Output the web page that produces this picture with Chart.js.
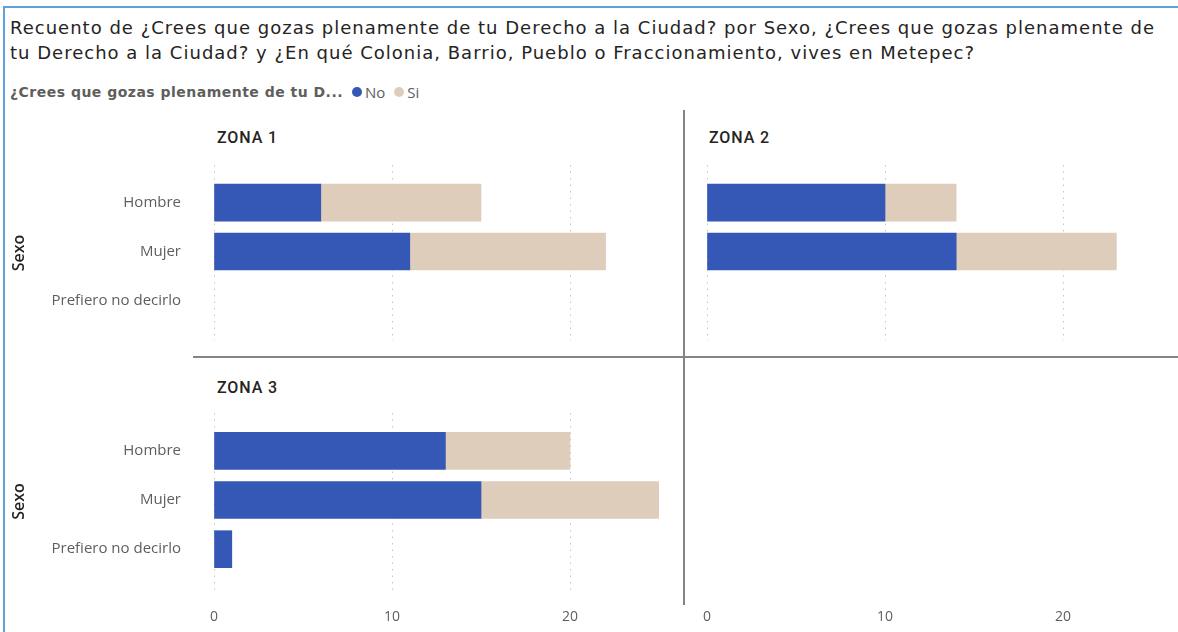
<!DOCTYPE html>
<html lang="es">
<head>
<meta charset="UTF-8">
<title>Recuento por Sexo y Zona</title>
<script src="https://cdn.jsdelivr.net/npm/chart.js"></script>
<style>
  body { margin: 0; width: 1178px; height: 632px; background: #fff; position: relative; overflow: hidden; font-family: Roboto, sans-serif; }
  .marco { position: absolute; left: 3px; top: 6px; width: 1200px; height: 700px; border-left: 2px solid #62a0dc; border-top: 2px solid #62a0dc; }
  #titulo { position: absolute; left: 10px; top: 15px; font-family: "DejaVu Sans", sans-serif; font-size: 18px; line-height: 25px; color: #252423; white-space: nowrap; }
  #leyenda { position: absolute; left: 10px; top: 82px; height: 20px; display: flex; align-items: center; font-family: "Open Sans", sans-serif; font-size: 14px; color: #605e5c; white-space: nowrap; }
  #leyenda .nombre { font-family: "DejaVu Sans", sans-serif; font-size: 14px; font-weight: bold; margin-right: 9px; }
  #leyenda .punto { width: 10px; height: 10px; border-radius: 50%; display: inline-block; margin-right: 3px; }
  #leyenda .item { display: flex; align-items: center; margin-right: 9px; font-size: 15px; }
  .zona { position: absolute; font-size: 16px; font-weight: 500; color: #252423; }
  .linea { position: absolute; background: #858585; }
  canvas { position: absolute; }
</style>
</head>
<body>
<div class="marco"></div>
<div id="titulo"><span id="l1">Recuento de ¿Crees que gozas plenamente de tu Derecho a la Ciudad? por Sexo, ¿Crees que gozas plenamente de</span><br><span id="l2">tu Derecho a la Ciudad? y ¿En qué Colonia, Barrio, Pueblo o Fraccionamiento, vives en Metepec?</span></div>
<div id="leyenda"><span class="nombre" id="nombreLeyenda">¿Crees que gozas plenamente de tu D...</span></div>

<div class="linea" style="left:683px; top:110px; width:2px; height:495px;"></div>
<div class="linea" style="left:193px; top:356px; width:985px; height:2px;"></div>

<div class="zona" id="t1" style="left:217px; top:128px;"></div>
<div class="zona" id="t2" style="left:709px; top:128px;"></div>
<div class="zona" id="t3" style="left:217px; top:378px;"></div>

<canvas id="zona1" width="680" height="186" style="left:0px; top:160px;"></canvas>
<canvas id="zona2" width="488" height="186" style="left:690px; top:160px;"></canvas>
<canvas id="zona3" width="680" height="224" style="left:0px; top:408px;"></canvas>
<canvas id="zona4" width="488" height="224" style="left:690px; top:408px;"></canvas>

<script>
// datos
const sexos = ['Hombre', 'Mujer', 'Prefiero no decirlo'];
const zonas = ['ZONA 1', 'ZONA 2', 'ZONA 3'];
const respuestas = ['No', 'Si'];
const colores = ['#3557b6', '#dfcdbc'];

const zona1No = [6, 11, null];
const zona1Si = [9, 11, null];
const zona2No = [10, 14, null];
const zona2Si = [4, 9, null];
const zona3No = [13, 15, 1];
const zona3Si = [7, 10, null];

const ticksX = [0, 10, 20];

// leyenda
const leyenda = document.getElementById('leyenda');
respuestas.forEach((r, i) => {
    const item = document.createElement('span');
    item.className = 'item';
    item.innerHTML = `<span class="punto" style="background:${colores[i]}"></span>${r}`;
    leyenda.appendChild(item);
});
['t1', 't2', 't3'].forEach((id, i) => document.getElementById(id).textContent = zonas[i]);

// la fuente original es mas ancha: se ajusta el espaciado para llegar al ancho del original
function ajustarAncho(el, ancho) {
    const w = el.getBoundingClientRect().width;
    const n = el.textContent.length;
    el.style.letterSpacing = ((ancho - w) / n) + 'px';
}
ajustarAncho(document.getElementById('l1'), 1145);
document.getElementById('l2').style.letterSpacing = document.getElementById('l1').style.letterSpacing;
ajustarAncho(document.getElementById('nombreLeyenda'), 333);
['t1', 't2', 't3'].forEach(id => ajustarAncho(document.getElementById(id), 61));

const fuenteEtiqueta = { family: 'Open Sans', size: 15 };

// quita el relleno que Chart.js agrega por las etiquetas
function sinRelleno(s) {
    s.paddingTop = 0; s.paddingBottom = 0; s.paddingLeft = 0; s.paddingRight = 0;
}

function crearZona(id, no, si, cfg) {
    const puntos = arr => arr.map((v, i) => ({ y: i, x: v }));
    const datasets = no ? [
        { label: respuestas[0], data: puntos(no), backgroundColor: colores[0] },
        { label: respuestas[1], data: puntos(si), backgroundColor: colores[1] }
    ] : [];

    new Chart(document.getElementById(id), {
        type: 'bar',
        data: { datasets: datasets },
        options: {
            indexAxis: 'y',
            responsive: false,
            animation: false,
            barThickness: 37,
            layout: { padding: { top: 5, right: cfg.derecha, left: 0, bottom: 0 } },
            plugins: { legend: { display: false }, tooltip: { enabled: false } },
            scales: {
                x: {
                    type: 'linear', min: 0, max: 25, stacked: true, offset: false,
                    afterBuildTicks: s => { s.ticks = ticksX.map(v => ({ value: v })); },
                    afterFit: s => { s.height = cfg.altoX; sinRelleno(s); },
                    grid: { display: cfg.rejilla, color: '#c4c4c4', lineWidth: 1, drawTicks: false, offset: false },
                    border: { display: false, dash: [1.5, 5] },
                    ticks: { display: cfg.ticksX, padding: 19, color: '#605e5c', font: { family: 'Open Sans', size: 14 } }
                },
                y: {
                    type: 'linear', reverse: true, min: -0.77, max: 2.83, stacked: true, offset: false,
                    afterBuildTicks: s => { s.ticks = sexos.map((_, i) => ({ value: i })); },
                    afterFit: s => { s.width = cfg.anchoY; sinRelleno(s); },
                    grid: { display: false, drawTicks: false, offset: false },
                    border: { display: false },
                    ticks: { display: cfg.etiquetas, padding: 33, color: '#605e5c', font: fuenteEtiqueta,
                             callback: v => sexos[v] },
                    title: { display: cfg.etiquetas, text: 'Sexo', color: '#252423',
                             font: { family: 'Open Sans', size: 16, weight: '600' }, padding: { top: 10 } }
                }
            }
        }
    });
}

crearZona('zona1', zona1No, zona1Si, { derecha: 21, altoX: 5, anchoY: 214, rejilla: true, ticksX: false, etiquetas: true });
crearZona('zona2', zona2No, zona2Si, { derecha: 26, altoX: 5, anchoY: 17, rejilla: true, ticksX: false, etiquetas: false });
crearZona('zona3', zona3No, zona3Si, { derecha: 21, altoX: 42, anchoY: 214, rejilla: true, ticksX: true, etiquetas: true });
crearZona('zona4', null, null, { derecha: 26, altoX: 42, anchoY: 17, rejilla: false, ticksX: true, etiquetas: false });
</script>
</body>
</html>
